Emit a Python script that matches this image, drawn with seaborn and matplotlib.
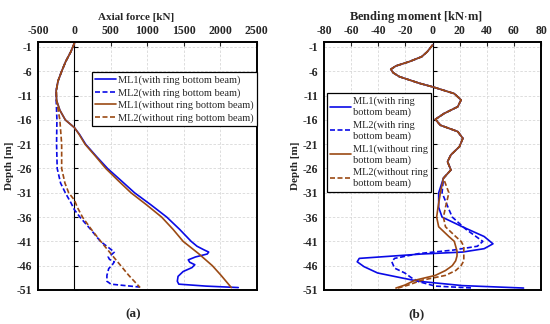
import matplotlib
matplotlib.use("Agg")
import matplotlib.pyplot as plt
import seaborn as sns

sns.set_style("white")
plt.rcParams['font.family'] = ['Liberation Serif', 'DejaVu Serif']
plt.rcParams['mathtext.fontset'] = 'stix'
plt.rcParams['axes.unicode_minus'] = False

# ---- axial force [kN] ----
af_depth_ml1_with = [-0.2, -2, -4, -6, -8, -10, -12, -14, -16, -17.6, -19, -21, -23.5, -26, -28.5, -31,
                     -33.5, -36, -38.5, -41, -42, -42.7, -43.2, -43.6, -44.2, -44.8, -45.3, -45.8, -46.4,
                     -47.2, -48.2, -49.2, -49.8, -50.2, -50.5]
af_ml1_with = [0, -50, -120, -175, -225, -250, -245, -200, -125, 0, 70, 153, 300, 454, 640, 824,
               1050, 1265, 1440, 1600, 1680, 1770, 1840, 1820, 1660, 1560, 1580, 1650, 1610,
               1490, 1420, 1410, 1430, 1800, 2245]

af_depth_ml2_with = [-0.2, -2, -4, -6, -8, -10, -12, -16, -21, -26, -29, -31, -33, -34.5, -36, -38.5,
                     -41, -42.3, -43.2, -43.7, -44.2, -44.7, -45.2, -45.8, -46.6, -48, -49.2, -49.8, -50.4]
af_ml2_with = [0, -50, -120, -175, -225, -250, -250, -240, -245, -236, -190, -125, -50, 0, 75, 220,
               356, 470, 547, 510, 463, 480, 547, 520, 470, 445, 445, 500, 894]

af_depth_ml1_without = [-0.2, -2, -4, -6, -8, -10, -12, -14, -16, -17.6, -19, -21, -23.5, -26, -28.5, -31,
                        -33.5, -36, -38.5, -41, -43.5, -46, -48, -50.5]
af_ml1_without = [0, -50, -120, -175, -225, -250, -245, -200, -125, 0, 65, 145, 290, 430, 600, 775,
                  990, 1195, 1350, 1490, 1700, 1890, 2010, 2150]

af_depth_ml2_without = [-0.2, -2, -4, -6, -8, -10, -12, -16, -21, -26, -29, -31, -32.5, -34, -36, -38.5,
                        -41, -43, -46, -48, -50.5]
af_ml2_without = [0, -50, -120, -175, -225, -248, -245, -200, -175, -175, -130, -79, 0, 40, 110, 230,
                  361, 470, 635, 745, 900]

# ---- bending moment [kN·m] ----
bm_depth_top = [-0.6, -2, -3, -4, -4.9, -5.6, -6.3, -7.1, -8.5, -9.2, -10.6, -11.9, -13.3, -14.7,
                -15.9, -17.1, -18.4, -19.8, -21.5, -23.2, -24.6, -26.3, -28]
bm_top = [0, -4, -8, -17, -27, -30.8, -29, -24.5, -9.3, 0, 16, 21, 18.5, 8.4,
          2, 5.8, 18.5, 22.3, 19.8, 13.5, 11, 13.5, 8]

bm_depth_ml1_with = bm_depth_top + [-31, -34, -36, -38, -40, -41.5, -42.5, -43.2, -43.6, -44.5, -45.2,
                                    -46.2, -47.5, -48.5, -49.2, -50.1, -50.6]
bm_ml1_with = bm_top + [4.5, 4.5, 7, 22, 38, 44.5, 38, 22, -8, -54, -55.5, -50.5, -40.5, -23, -10.5, 22, 67]

bm_depth_ml2_with = bm_depth_top + [-31, -34.4, -36, -38.5, -41, -42, -42.8, -43.5, -44.5, -45.2, -46.5,
                                    -47.5, -48.5, -49.3, -50.2, -50.6]
bm_ml2_with = bm_top + [7, 12, 14.5, 24.5, 37, 33, 15, -10, -28, -30, -28, -20.5, -15.5, -10, 2, 30]

bm_depth_ml1_without = bm_depth_top + [-31, -34, -36, -38, -40, -41, -42, -43, -44, -45, -46, -47,
                                       -48, -49, -50, -50.6]
bm_ml1_without = bm_top + [5.75, 4, 3, 4.5, 12, 16, 17, 18, 18, 17, 14.5, 9.5, 2, -13, -20.5, -27]

bm_depth_ml2_without = bm_depth_top + [-31, -34, -36, -38, -40, -41, -42, -43, -45, -46, -47, -48,
                                       -49, -50, -50.6]
bm_ml2_without = bm_top + [12, 9.5, 8, 9.5, 17, 21, 23, 23, 23, 21, 17, 9.5, -8, -18, -25.5]

depth_ticks = [-1, -6, -11, -16, -21, -26, -31, -36, -41, -46, -51]
af_ticks = [-500, 0, 500, 1000, 1500, 2000, 2500]
bm_ticks = [-80, -60, -40, -20, 0, 20, 40, 60, 80]

BLUE = '#0a0ae6'
BROWN = '#9b4a14'
DASH = (3, 1.5)

fig = plt.figure(figsize=(5.5, 3.24), dpi=100)
ax1 = fig.add_axes([0.069, 0.105, 0.398, 0.765])
ax2 = fig.add_axes([0.589, 0.105, 0.395, 0.765])

def draw(ax, series, labels, xlim, xticks, xlabel, title_size, title_x):
    styles = [(BLUE, None), (BLUE, DASH), (BROWN, None), (BROWN, DASH)]
    for (x, y), lab, (c, d) in zip(series, labels, styles):
        sns.lineplot(x=x, y=y, ax=ax, sort=False, estimator=None, color=c, lw=1.2, label=lab)
        if d is not None:
            ax.lines[-1].set_dashes(d)
    ax.axvline(0, color='black', lw=0.8, zorder=1)
    # small ticks on the zero line
    ax.plot([0] * len(depth_ticks), depth_ticks, ls='none', marker=1, ms=3, mew=0.8,
            color='black', zorder=1)
    ax.set_xlim(*xlim)
    ax.set_ylim(-51, 0)
    ax.set_xticks(xticks)
    ax.set_yticks(depth_ticks)
    ax.xaxis.tick_top()
    ax.xaxis.set_label_position('top')
    ax.set_xlabel(xlabel, fontsize=title_size, fontweight='bold')
    ax.xaxis.set_label_coords(title_x, 1.09)
    ax.set_ylabel('Depth [m]', fontsize=8, fontweight='bold', labelpad=2)
    ax.tick_params(direction='in', length=3, width=0.8, labelsize=8.5, pad=4)
    for t in ax.get_xticklabels() + ax.get_yticklabels():
        t.set_fontweight('bold')
    ax.grid(True, color='#d8d8d8', ls=(0, (3, 2)), lw=0.6)
    for s in ax.spines.values():
        s.set_color('black')
        s.set_linewidth(1.4)

draw(ax1,
     [(af_ml1_with, af_depth_ml1_with), (af_ml2_with, af_depth_ml2_with),
      (af_ml1_without, af_depth_ml1_without), (af_ml2_without, af_depth_ml2_without)],
     ['ML1(with ring bottom beam)', 'ML2(with ring bottom beam)',
      'ML1(without ring bottom beam)', 'ML2(without ring bottom beam)'],
     (-500, 2500), af_ticks, 'Axial force [kN]', 8, 0.447)

draw(ax2,
     [(bm_ml1_with, bm_depth_ml1_with), (bm_ml2_with, bm_depth_ml2_with),
      (bm_ml1_without, bm_depth_ml1_without), (bm_ml2_without, bm_depth_ml2_without)],
     ['ML1(with ring\nbottom beam)', 'ML2(with ring\nbottom beam)',
      'ML1(without ring\nbottom beam)', 'ML2(without ring\nbottom beam)'],
     (-80, 80), bm_ticks, 'Bending moment [kN$\\cdot$m]', 9, 0.424)

leg_kw = dict(fontsize=7.5, frameon=True, fancybox=False, framealpha=1, edgecolor='black',
              borderpad=0.3, labelspacing=0.3, handlelength=2.0, handletextpad=0.2, borderaxespad=0)
l1 = ax1.legend(loc='upper left', bbox_to_anchor=(0.247, 0.879), **leg_kw)
l2 = ax2.legend(loc='upper left', bbox_to_anchor=(0.014, 0.794), **leg_kw)
for l in (l1, l2):
    l.get_frame().set_linewidth(0.9)

fig.text(0.242, 0.02, '(a)', ha='center', fontsize=9.5, fontweight='bold')
fig.text(0.757, 0.02, '(b)', ha='center', fontsize=9.5, fontweight='bold')

fig.savefig('out.png', dpi=100)
